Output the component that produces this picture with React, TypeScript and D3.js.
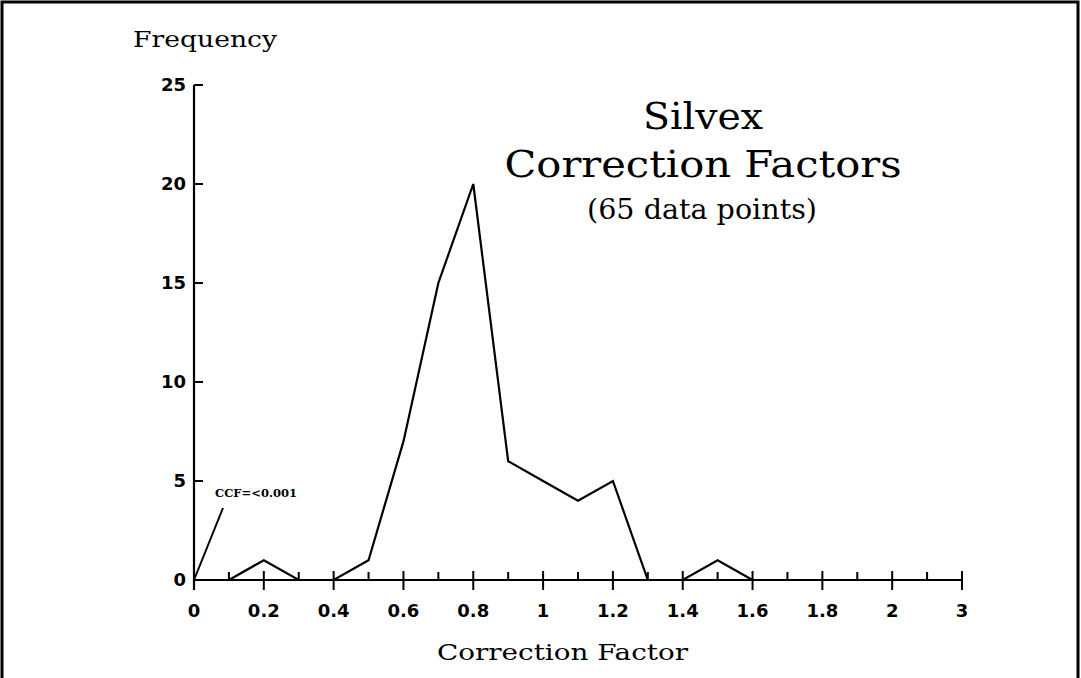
import React from "react";
import * as d3 from "d3";

// x categories, evenly spaced on the plot (note the jump from 2 to 3)
const factorLabels = [
  "0", "0.1", "0.2", "0.3", "0.4", "0.5", "0.6", "0.7", "0.8", "0.9", "1",
  "1.1", "1.2", "1.3", "1.4", "1.5", "1.6", "1.7", "1.8", "1.9", "2", "2.5", "3",
];
const labelledFactors = ["0", "0.2", "0.4", "0.6", "0.8", "1", "1.2", "1.4", "1.6", "1.8", "2", "3"];

// frequency polygon
const binFactors = ["0.1", "0.2", "0.3", "0.4", "0.5", "0.6", "0.7", "0.8", "0.9", "1", "1.1", "1.2", "1.3", "1.4", "1.5", "1.6"];
const binCounts = [0, 1, 0, 0, 1, 7, 15, 20, 6, 5, 4, 5, 0, 0, 1, 0];

const freqTicks = [0, 5, 10, 15, 20, 25];

const W = 1081;
const H = 678;

export default function App() {
  const x = d3.scalePoint<string>().domain(factorLabels).range([194, 962]);
  const y = d3.scaleLinear().domain([0, 25]).range([580, 85]);

  const line = d3
    .line<number>()
    .x((d, i) => x(binFactors[i]) as number)
    .y((d) => y(d));

  const serif = "'DejaVu Serif', serif";
  const sans = "'DejaVu Sans', sans-serif";
  const x0 = x("0") as number;

  return (
    <svg
      width={W}
      height={H}
      style={{ position: "absolute", left: 0, top: 0, background: "#fff" }}
    >
      {/* frame */}
      <path d={`M2,${H} V2 H${W - 3} V${H}`} fill="none" stroke="#000" strokeWidth={3} />

      {/* y axis */}
      <line x1={x0} x2={x0} y1={y(25)} y2={y(0) + 10} stroke="#000" strokeWidth={2.2} />
      {freqTicks.map((t) => (
        <g key={t}>
          <line x1={x0} x2={x0 + 9} y1={y(t)} y2={y(t)} stroke="#000" strokeWidth={2} />
          <text
            x={186}
            y={y(t)}
            dy="0.36em"
            textAnchor="end"
            fontFamily={sans}
            fontWeight="bold"
            fontSize={18}
          >
            {t}
          </text>
        </g>
      ))}
      <text x={133} y={47} fontFamily={serif} fontSize={22} textLength={144} lengthAdjust="spacingAndGlyphs">
        Frequency
      </text>

      {/* x axis */}
      <line x1={x0} x2={x("3")} y1={y(0)} y2={y(0)} stroke="#000" strokeWidth={2.2} />
      {factorLabels.map((f) => {
        const major = labelledFactors.includes(f);
        const px = x(f) as number;
        return (
          <g key={f}>
            <line
              x1={px}
              x2={px}
              y1={major ? y(0) - 9 : y(0) - 8}
              y2={major ? y(0) + 10 : y(0)}
              stroke="#000"
              strokeWidth={2}
            />
            {major && (
              <text
                x={px}
                y={617}
                textAnchor="middle"
                fontFamily={sans}
                fontWeight="bold"
                fontSize={18}
              >
                {f}
              </text>
            )}
          </g>
        );
      })}
      <text x={437} y={660} fontFamily={serif} fontSize={23} textLength={251} lengthAdjust="spacingAndGlyphs">
        Correction Factor
      </text>

      {/* data */}
      <path d={line(binCounts) || ""} fill="none" stroke="#000" strokeWidth={2.2} strokeLinejoin="miter" />

      {/* annotation */}
      <line x1={x0} y1={y(0)} x2={223} y2={508} stroke="#000" strokeWidth={2} />
      <text x={215} y={497} fontFamily={serif} fontWeight="bold" fontSize={11} textLength={82} lengthAdjust="spacingAndGlyphs">
        CCF=&lt;0.001
      </text>

      {/* title */}
      <text x={703} y={129} textAnchor="middle" fontFamily={serif} fontSize={37} textLength={120} lengthAdjust="spacingAndGlyphs">
        Silvex
      </text>
      <text x={703} y={177} textAnchor="middle" fontFamily={serif} fontSize={37} textLength={397} lengthAdjust="spacingAndGlyphs">
        Correction Factors
      </text>
      <text x={702} y={219} textAnchor="middle" fontFamily={serif} fontSize={27} textLength={230} lengthAdjust="spacingAndGlyphs">
        (65 data points)
      </text>
    </svg>
  );
}
